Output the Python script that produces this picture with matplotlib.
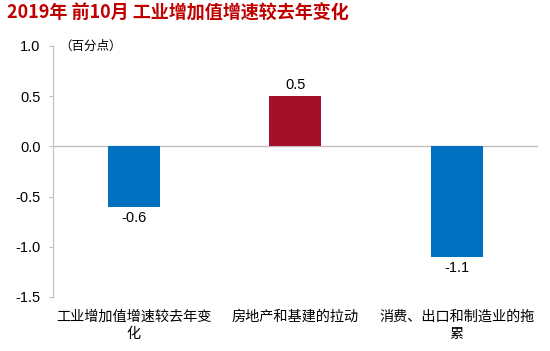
import matplotlib
matplotlib.use("Agg")
import matplotlib.pyplot as plt

plt.rcParams['font.family'] = ['Liberation Sans', 'Noto Sans CJK SC', 'DejaVu Sans']

categories = ["工业增加值增速较去年变\n化", "房地产和基建的拉动", "消费、出口和制造业的拖\n累"]
values = [-0.6, 0.5, -1.1]
value_labels = ["-0.6", "0.5", "-1.1"]
colors = ["#0070C0", "#A50F2A", "#0070C0"]
yticks = [1.0, 0.5, 0.0, -0.5, -1.0, -1.5]
title = "2019年 前10月 工业增加值增速较去年变化"
unit = "（百分点）"

fig = plt.figure(figsize=(5.5, 3.51), dpi=100)
ax = fig.add_axes([0.0964, 0.154, 0.881, 0.715])
x = list(range(len(categories)))
ax.bar(x, values, width=0.32, color=colors, zorder=3)
ax.set_xlim(-0.5, 2.5)
ax.set_ylim(-1.5, 1.0)
ax.set_yticks(yticks)
ax.set_yticklabels([f"{t:.1f}" for t in yticks], fontsize=10.5)
ax.axhline(0, color="#BFBFBF", lw=1, zorder=2)
for s in ["top", "right", "bottom"]:
    ax.spines[s].set_visible(False)
ax.spines["left"].set_color("#BFBFBF")
ax.tick_params(axis="y", color="#BFBFBF", length=3, pad=6)
ax.set_xticks([])

for xi, v, lab in zip(x, values, value_labels):
    if v >= 0:
        ax.text(xi, v + 0.04, lab, ha="center", va="bottom", fontsize=10.5)
    else:
        ax.text(xi, v - 0.04, lab, ha="center", va="top", fontsize=10.5)

for xi, c in zip(x, categories):
    ax.text(xi, -1.63, c, ha="center", va="top", fontsize=10.2,
            family=['Noto Sans CJK SC', 'DejaVu Sans'], linespacing=1.3)

fig.text(0.012, 0.963, title, ha="left", va="center", fontsize=13, fontweight="bold",
         color="#C00000", family=['Noto Sans CJK SC', 'DejaVu Sans'])
ax.text(0.012, 1.0, unit, transform=ax.transAxes, ha="left", va="center", fontsize=9,
        family=['Noto Sans CJK SC', 'DejaVu Sans'])

fig.savefig("out.png", dpi=100)
